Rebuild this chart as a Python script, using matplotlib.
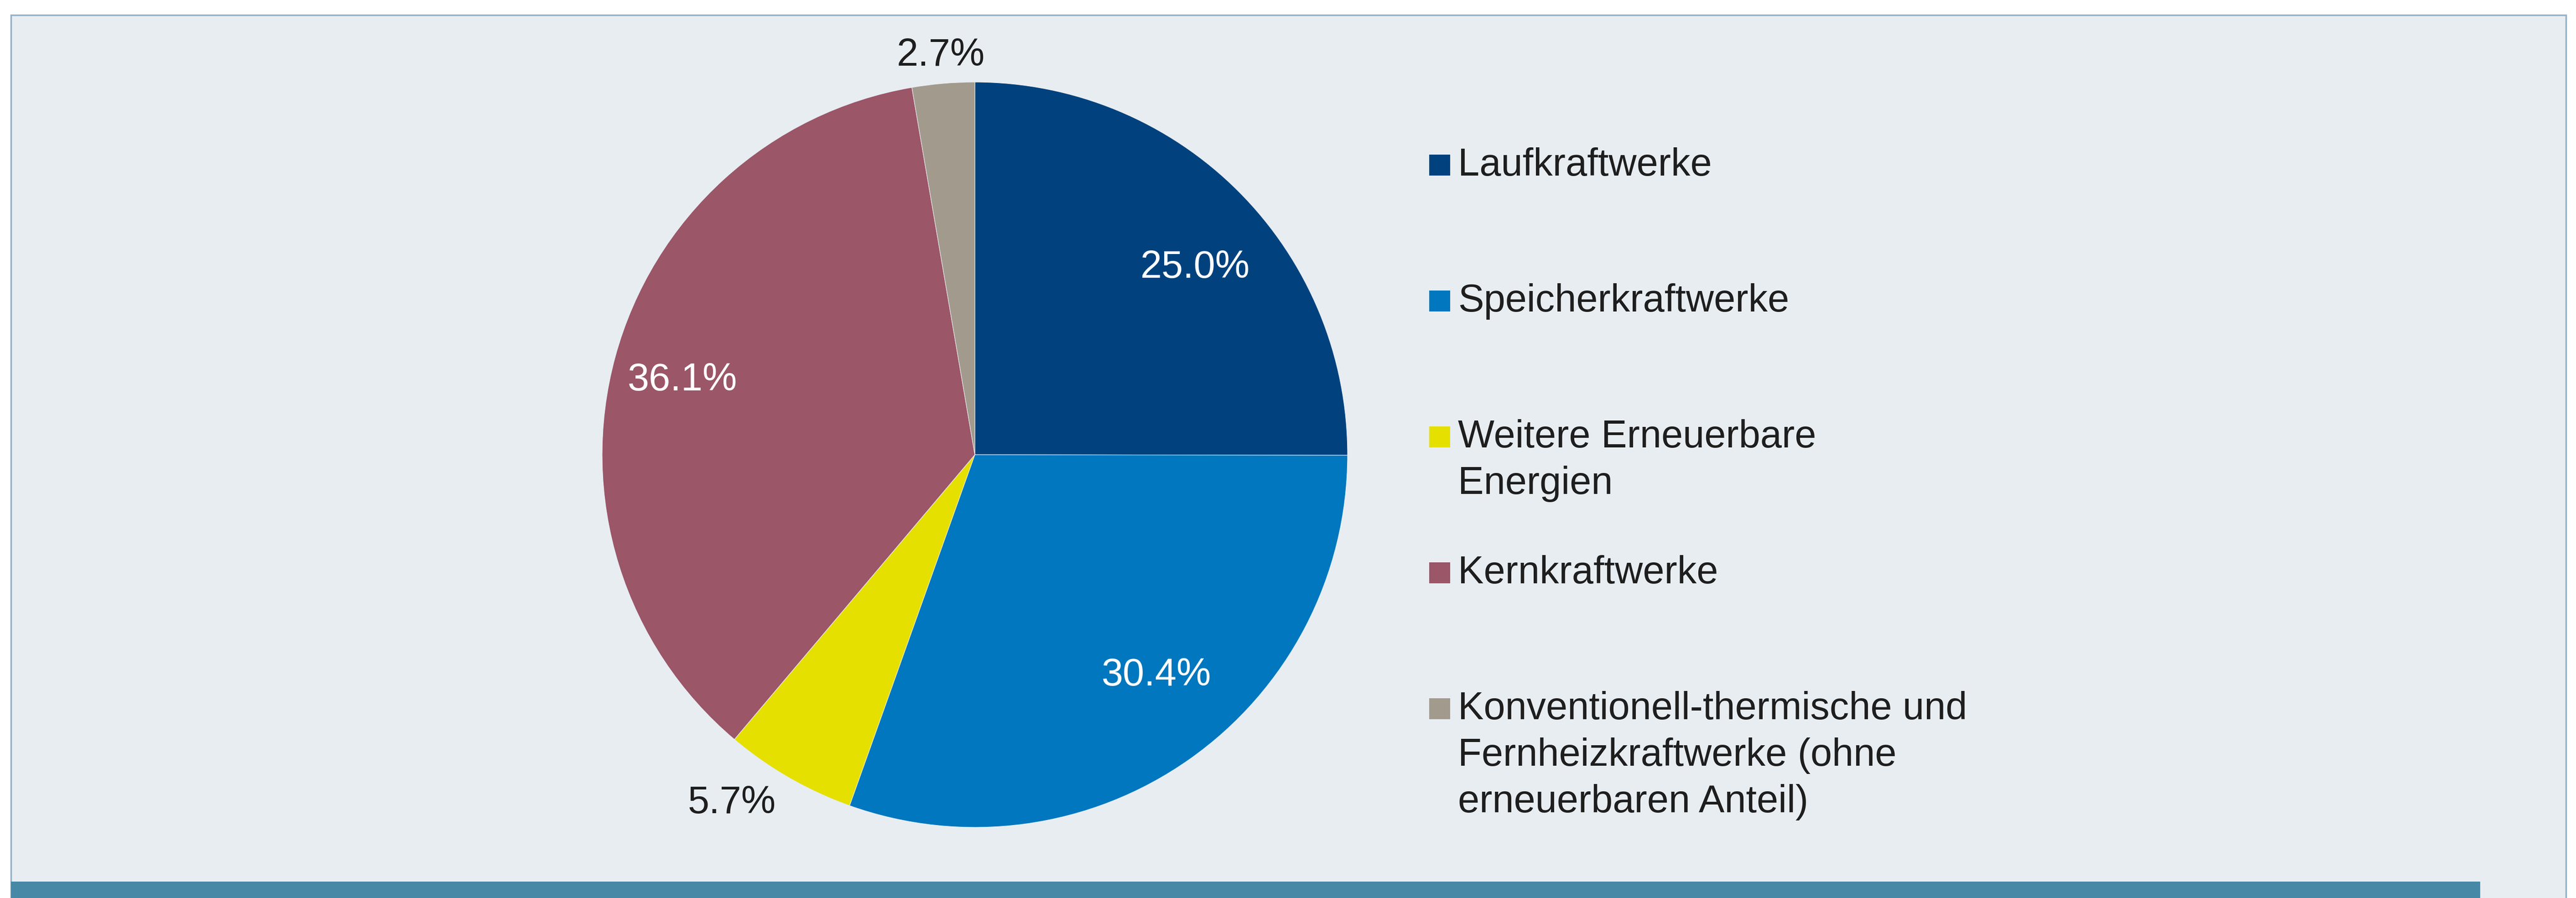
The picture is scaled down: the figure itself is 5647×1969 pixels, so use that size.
import matplotlib
matplotlib.use("Agg")
import matplotlib.pyplot as plt
from matplotlib.patches import Rectangle
import numpy as np

W, H = 5647, 1969

# data
categories = ["Laufkraftwerke", "Speicherkraftwerke",
              "Weitere Erneuerbare\nEnergien", "Kernkraftwerke",
              "Konventionell-thermische und\nFernheizkraftwerke (ohne\nerneuerbaren Anteil)"]
shares = [25.0, 30.4, 5.7, 36.1, 2.7]

colors = ["#01427e", "#0077be", "#e5e000", "#9b5668", "#a29b8d"]
pct_colors = ["white", "white", "#1e1e1e", "white", "#1e1e1e"]
pct_dist = [0.775, 0.767, 1.14, 0.81, 1.075]
pct_shift = [-4.6, 4.3, -5.0, 1.0, 0.0]   # degrees off the wedge middle

plt.rcParams["font.family"] = ["Liberation Sans", "DejaVu Sans"]
FS = 61


def fx(x):
    return x / W


def fy(y):
    return 1 - y / H


fig = plt.figure(figsize=(W / 100, H / 100), dpi=100)
fig.patch.set_facecolor("white")

# panel and bottom bar
fig.patches.append(Rectangle((fx(24), fy(1975)), fx(5625) - fx(24), fy(33) - fy(1975),
                             transform=fig.transFigure, facecolor="#e8edf2",
                             edgecolor="#93b1c8", linewidth=2.5, zorder=-2))
fig.patches.append(Rectangle((fx(24), fy(1969)), fx(5437) - fx(24), fy(1933) - fy(1969),
                             transform=fig.transFigure, facecolor="#4688a5",
                             edgecolor="none", zorder=-1))

# pie
cx, cy, r = 2137, 997, 817
ax = fig.add_axes([fx(cx - r), fy(cy + r), 2 * r / W, 2 * r / H])
ax.set_zorder(3)
wedges, _ = ax.pie(shares, colors=colors, startangle=90, counterclock=False,
                   wedgeprops=dict(edgecolor="#e8edf2", linewidth=0.8))
ax.set_xlim(-1, 1)
ax.set_ylim(-1, 1)
ax.set_aspect("equal")
ax.axis("off")

for w, v, c, d, s in zip(wedges, shares, pct_colors, pct_dist, pct_shift):
    ang = np.deg2rad((w.theta1 + w.theta2) / 2 + s)
    ax.text(d * np.cos(ang), d * np.sin(ang), f"{v:.1f}%", ha="center", va="center",
            color=c, fontsize=FS, clip_on=False)

# legend
x_mark, mark_size = 3133, 46
x_text = 3196
base0, row_step, line_step = 385, 298, 102
for i, (lab, col) in enumerate(zip(categories, colors)):
    base = base0 + i * row_step
    fig.patches.append(Rectangle((fx(x_mark), fy(base)), mark_size / W, mark_size / H,
                                 transform=fig.transFigure, facecolor=col,
                                 edgecolor="none", zorder=2))
    for j, line in enumerate(lab.split("\n")):
        fig.text(fx(x_text), fy(base + j * line_step), line, ha="left", va="baseline",
                 fontsize=FS, color="#1e1e1e")

fig.savefig("out.png", dpi=100, facecolor="white")
